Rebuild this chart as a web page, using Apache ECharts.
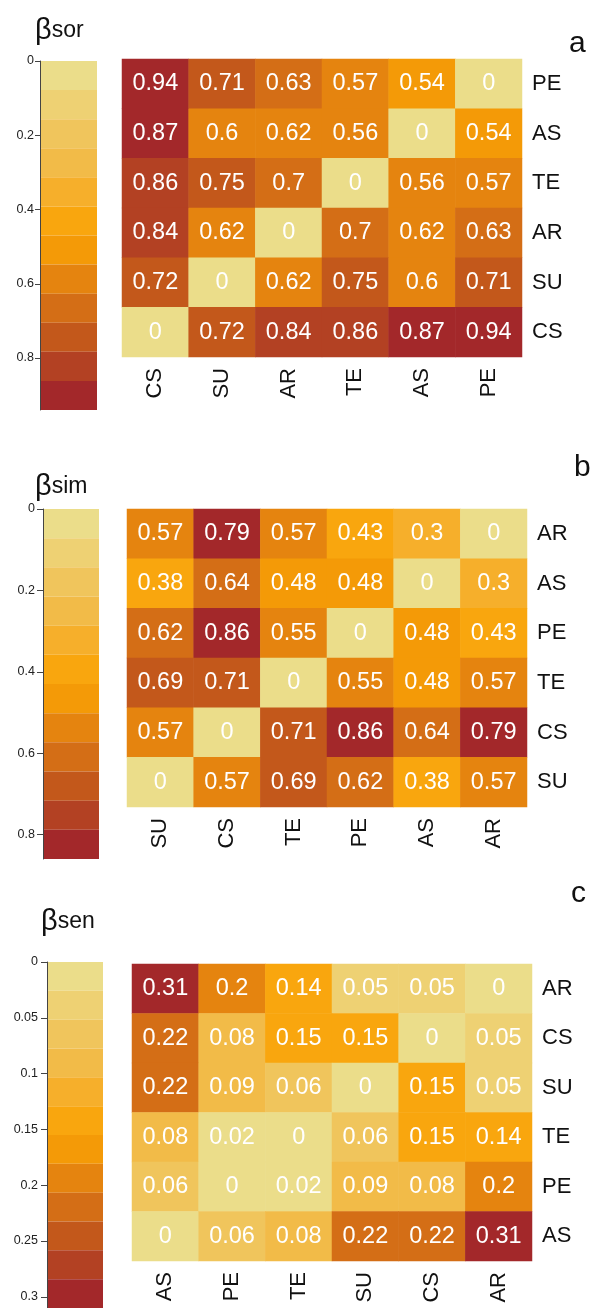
<!DOCTYPE html>
<html>
<head>
<meta charset="utf-8">
<script src="https://cdn.jsdelivr.net/npm/echarts@6/dist/echarts.min.js"></script>
<style>
html,body{margin:0;padding:0;background:#fff;}
#chart{width:600px;height:1308px;}
</style>
</head>
<body>
<div id="chart"></div>
<script>
// ---------- data ----------
var colsA = ['CS', 'SU', 'AR', 'TE', 'AS', 'PE'];
var rowsA = ['PE', 'AS', 'TE', 'AR', 'SU', 'CS']; // top to bottom
var matrixA = [
  [0.94, 0.71, 0.63, 0.57, 0.54, 0],
  [0.87, 0.6, 0.62, 0.56, 0, 0.54],
  [0.86, 0.75, 0.7, 0, 0.56, 0.57],
  [0.84, 0.62, 0, 0.7, 0.62, 0.63],
  [0.72, 0, 0.62, 0.75, 0.6, 0.71],
  [0, 0.72, 0.84, 0.86, 0.87, 0.94]
];
var colsB = ['SU', 'CS', 'TE', 'PE', 'AS', 'AR'];
var rowsB = ['AR', 'AS', 'PE', 'TE', 'CS', 'SU'];
var matrixB = [
  [0.57, 0.79, 0.57, 0.43, 0.3, 0],
  [0.38, 0.64, 0.48, 0.48, 0, 0.3],
  [0.62, 0.86, 0.55, 0, 0.48, 0.43],
  [0.69, 0.71, 0, 0.55, 0.48, 0.57],
  [0.57, 0, 0.71, 0.86, 0.64, 0.79],
  [0, 0.57, 0.69, 0.62, 0.38, 0.57]
];
var colsC = ['AS', 'PE', 'TE', 'SU', 'CS', 'AR'];
var rowsC = ['AR', 'CS', 'SU', 'TE', 'PE', 'AS'];
var matrixC = [
  [0.31, 0.2, 0.14, 0.05, 0.05, 0],
  [0.22, 0.08, 0.15, 0.15, 0, 0.05],
  [0.22, 0.09, 0.06, 0, 0.15, 0.05],
  [0.08, 0.02, 0, 0.06, 0.15, 0.14],
  [0.06, 0, 0.02, 0.09, 0.08, 0.2],
  [0, 0.06, 0.08, 0.22, 0.22, 0.31]
];
var scaleMaxA = 0.94, scaleMaxB = 0.86, scaleMaxC = 0.31;
var ticksA = [0, 0.2, 0.4, 0.6, 0.8];
var ticksB = [0, 0.2, 0.4, 0.6, 0.8];
var ticksC = [0, 0.05, 0.1, 0.15, 0.2, 0.25, 0.3];
var palette = ['#EBDD8A', '#EED173', '#F0C55C', '#F2BB48', '#F6AF2B', '#F9A60E',
               '#F49A07', '#E5840F', '#D46E16', '#C3581B', '#B34123', '#A3282A'];

// ---------- layout ----------
var FONT = '"Liberation Sans", Arial, Helvetica, sans-serif';
var panels = [
  {cols: colsA, rows: rowsA, m: matrixA, max: scaleMaxA, ticks: ticksA, title: 'sor', letter: 'a',
   leg: {left: 40, top: 61, width: 57, height: 349, tick: 5, margin: 6},
   heat: {left: 122, top: 59, width: 400, height: 298},
   titlePos: {left: 30, top: 11}, letterPos: {left: 564, top: 24}},
  {cols: colsB, rows: rowsB, m: matrixB, max: scaleMaxB, ticks: ticksB, title: 'sim', letter: 'b',
   leg: {left: 43, top: 509, width: 56, height: 350, tick: 6, margin: 8},
   heat: {left: 127, top: 509, width: 400, height: 298},
   titlePos: {left: 30, top: 467}, letterPos: {left: 569, top: 448}},
  {cols: colsC, rows: rowsC, m: matrixC, max: scaleMaxC, ticks: ticksC, title: 'sen', letter: 'c',
   leg: {left: 47, top: 962, width: 56, height: 349, tick: 6, margin: 9},
   heat: {left: 132, top: 964, width: 400, height: 297},
   titlePos: {left: 36, top: 902}, letterPos: {left: 566, top: 874}}
];

var grids = [], xAxes = [], yAxes = [], series = [], visualMaps = [], titles = [];
var N = palette.length;

panels.forEach(function (p, pi) {
  var step = p.max / N;
  grids.push({left: p.leg.left, top: p.leg.top, width: p.leg.width, height: p.leg.height});
  grids.push({left: p.heat.left, top: p.heat.top, width: p.heat.width, height: p.heat.height});
  var gL = grids.length - 2, gH = grids.length - 1;

  xAxes.push({type: 'category', gridIndex: gL, data: [''], show: false});
  yAxes.push({
    type: 'value', gridIndex: gL, inverse: true, min: 0, max: p.max, z: 5,
    axisLine: {show: true, lineStyle: {color: '#444', width: 1}},
    axisTick: {show: true, length: p.leg.tick, customValues: p.ticks, lineStyle: {color: '#444'}},
    axisLabel: {customValues: p.ticks, margin: p.leg.margin, fontSize: 12.5, color: '#222', fontFamily: FONT},
    splitLine: {show: false}
  });
  xAxes.push({
    type: 'category', gridIndex: gH, data: p.cols, position: 'bottom',
    axisLine: {show: false}, axisTick: {show: false}, splitLine: {show: false},
    axisLabel: {rotate: 90, margin: 11, fontSize: 22, color: '#111', fontFamily: FONT}
  });
  yAxes.push({
    type: 'category', gridIndex: gH, data: p.cols, position: 'right',
    axisLine: {show: false}, axisTick: {show: false}, splitLine: {show: false},
    axisLabel: {margin: 10, fontSize: 22, color: '#111', fontFamily: FONT}
  });
  var xL = xAxes.length - 2, xH = xAxes.length - 1;

  // legend colour bands
  for (var i = 0; i < N; i++) {
    series.push({
      type: 'bar', xAxisIndex: xL, yAxisIndex: xL, stack: 'leg' + pi,
      data: [step], barWidth: '100%', silent: true,
      itemStyle: {color: palette[i]}
    });
  }

  // heatmap
  var data = [];
  p.m.forEach(function (row, r) {
    var yi = p.cols.indexOf(p.rows[r]);
    row.forEach(function (v, c) { data.push([c, yi, v]); });
  });
  series.push({
    type: 'heatmap', xAxisIndex: xH, yAxisIndex: xH, data: data,
    label: {show: true, color: '#fff', fontSize: 23.5, fontFamily: FONT,
            formatter: function (d) { return String(d.value[2]); }},
    itemStyle: {borderWidth: 0},
    emphasis: {disabled: true}
  });
  var pieces = [];
  for (var k = 0; k < N; k++) {
    var lo = Math.round(k * step * 1e6) / 1e6, hi = Math.round((k + 1) * step * 1e6) / 1e6;
    var pc = {color: palette[k]};
    if (k === 0) pc.gte = lo; else pc.gt = lo;
    if (k === N - 1) pc.lte = p.max + 1; else pc.lte = hi;
    pieces.push(pc);
  }
  visualMaps.push({type: 'piecewise', show: false, seriesIndex: series.length - 1, pieces: pieces, dimension: 2});

  titles.push({
    text: '{b|β}{s|' + p.title + '}', left: p.titlePos.left, top: p.titlePos.top,
    textStyle: {fontWeight: 'normal', rich: {
      b: {fontSize: 29, fontWeight: 'normal', fontFamily: FONT, color: '#111'},
      s: {fontSize: 23, fontWeight: 'normal', fontFamily: FONT, color: '#111'}
    }}
  });
  titles.push({
    text: p.letter, left: p.letterPos.left, top: p.letterPos.top,
    textStyle: {fontSize: 30, fontWeight: 'normal', fontFamily: FONT, color: '#111'}
  });
});

var chart = echarts.init(document.getElementById('chart'), null, {renderer: 'canvas'});
chart.setOption({
  animation: false,
  backgroundColor: '#fff',
  title: titles,
  grid: grids,
  xAxis: xAxes,
  yAxis: yAxes,
  visualMap: visualMaps,
  series: series
});
</script>
</body>
</html>
